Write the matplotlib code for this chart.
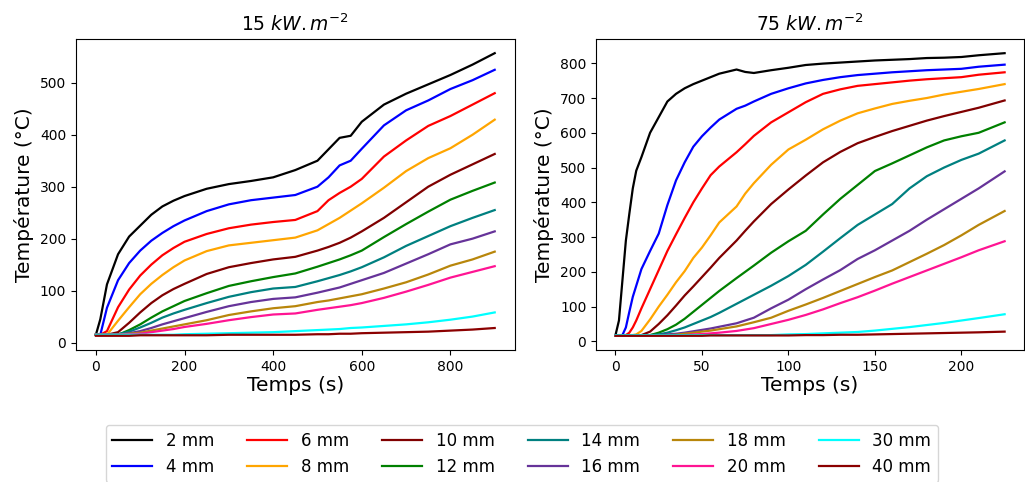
import matplotlib
matplotlib.use("Agg")
import matplotlib.pyplot as plt

# épaisseurs et couleurs
labels = ['2 mm', '4 mm', '6 mm', '8 mm', '10 mm', '12 mm', '14 mm', '16 mm',
          '18 mm', '20 mm', '30 mm', '40 mm']
couleurs = ['black', 'blue', 'red', 'orange', 'maroon', 'green', 'teal',
            'rebeccapurple', 'darkgoldenrod', 'deeppink', 'cyan', 'darkred']

# ---------------- 15 kW/m2 ----------------
t15 = [0, 10, 25, 50, 75, 100, 125, 150, 175, 200, 250, 300, 350, 400, 450, 500,
       525, 550, 575, 600, 650, 700, 750, 800, 850, 900]
T15_2 = [15, 45, 112, 170, 204, 225, 246, 262, 273, 282, 296, 305, 311, 318, 332,
         350, 372, 394, 398, 425, 458, 479, 497, 515, 535, 557]
T15_4 = [15, 15, 67, 120, 153, 177, 196, 211, 224, 235, 253, 266, 274, 279, 284,
         300, 318, 341, 350, 373, 418, 447, 466, 488, 505, 525]
T15_6 = [15, 15, 22, 68, 102, 129, 150, 168, 182, 194, 209, 220, 227, 232, 236,
         253, 274, 288, 300, 315, 358, 389, 417, 436, 458, 480]
T15_8 = [15, 15, 15, 42, 68, 93, 113, 130, 145, 158, 176, 187, 192, 197, 202,
         216, 228, 240, 254, 268, 298, 330, 355, 374, 400, 429]
T15_10 = [15, 15, 15, 20, 38, 58, 76, 91, 103, 113, 132, 145, 153, 160, 165,
          177, 184, 192, 202, 214, 240, 270, 300, 323, 343, 363]
T15_12 = [15, 15, 15, 15, 24, 35, 48, 60, 70, 80, 95, 109, 118, 126, 133,
          146, 153, 160, 168, 177, 203, 228, 252, 275, 292, 308]
T15_14 = [15, 15, 15, 16, 21, 29, 38, 48, 56, 63, 76, 88, 97, 104, 107,
          118, 124, 130, 137, 145, 164, 186, 205, 224, 240, 255]
T15_16 = [15, 15, 15, 15, 18, 22, 28, 35, 41, 47, 59, 70, 78, 84, 87,
          96, 101, 106, 113, 120, 134, 152, 170, 189, 200, 214]
T15_18 = [15, 15, 15, 15, 17, 19, 23, 27, 31, 35, 43, 53, 60, 66, 70,
          78, 81, 85, 89, 93, 104, 116, 131, 148, 160, 175]
T15_20 = [15, 15, 15, 15, 16, 17, 20, 23, 26, 30, 36, 43, 49, 54, 56,
          63, 66, 69, 72, 76, 86, 98, 111, 125, 136, 147]
T15_30 = [15, 15, 15, 15, 15, 15, 15, 15, 15, 16, 17, 18, 19, 20, 22,
          24, 25, 26, 28, 29, 32, 35, 39, 44, 50, 58]
T15_40 = [13, 13, 13, 13, 13, 14, 14, 14, 14, 14, 14, 15, 15, 15, 15,
          16, 16, 17, 17, 18, 19, 20, 21, 23, 25, 28]

# ---------------- 75 kW/m2 ----------------
t75 = [0, 2, 4, 6, 8, 10, 12, 15, 20, 25, 30, 35, 40, 45, 50, 55, 60, 70, 75,
       80, 90, 100, 110, 120, 130, 140, 150, 160, 170, 180, 190, 200, 210, 225]
T75_2 = [18, 60, 175, 290, 367, 440, 491, 530, 600, 645, 690, 712, 728, 740, 750,
         760, 770, 782, 775, 772, 780, 787, 795, 799, 802, 805, 808, 810, 812,
         815, 816, 818, 823, 829]
T75_4 = [18, 18, 18, 40, 85, 128, 160, 208, 260, 310, 392, 463, 515, 560, 590,
         615, 638, 669, 678, 690, 712, 728, 742, 752, 760, 766, 770, 774, 777,
         780, 782, 784, 790, 796]
T75_6 = [18, 18, 18, 18, 25, 40, 60, 95, 150, 205, 260, 308, 355, 400, 440,
         478, 503, 544, 567, 591, 630, 659, 688, 712, 725, 735, 740, 745, 750,
         754, 757, 760, 767, 774]
T75_8 = [18, 18, 18, 18, 18, 18, 20, 30, 63, 100, 134, 170, 202, 240, 270,
         305, 342, 388, 425, 455, 508, 552, 580, 610, 635, 656, 670, 683, 692,
         700, 710, 718, 726, 740]
T75_10 = [18, 18, 18, 18, 18, 18, 18, 18, 28, 50, 75, 103, 132, 158, 185,
          212, 240, 290, 318, 345, 395, 437, 477, 515, 545, 570, 588, 605, 620,
          635, 648, 660, 672, 693]
T75_12 = [18, 18, 18, 18, 18, 18, 18, 18, 18, 25, 35, 48, 65, 85, 105,
          125, 145, 182, 200, 218, 255, 288, 318, 365, 410, 450, 490, 512, 535,
          558, 578, 590, 600, 630]
T75_14 = [18, 18, 18, 18, 18, 18, 18, 18, 18, 20, 25, 32, 40, 50, 60,
          70, 82, 108, 121, 134, 160, 188, 220, 258, 297, 335, 365, 395, 440,
          475, 500, 522, 540, 578]
T75_16 = [18, 18, 18, 18, 18, 18, 18, 18, 18, 18, 20, 22, 25, 29, 33,
          37, 42, 52, 60, 68, 95, 120, 150, 178, 205, 237, 262, 290, 318,
          350, 380, 410, 440, 489]
T75_18 = [18, 18, 18, 18, 18, 18, 18, 18, 18, 18, 18, 19, 22, 25, 28,
          31, 35, 43, 49, 55, 68, 88, 106, 125, 145, 165, 185, 204, 228,
          252, 277, 305, 335, 375]
T75_20 = [18, 18, 18, 18, 18, 18, 18, 18, 18, 18, 18, 18, 18, 20, 21,
          23, 25, 30, 34, 38, 50, 62, 76, 92, 110, 127, 146, 166, 185,
          204, 223, 242, 262, 288]
T75_30 = [18, 18, 18, 18, 18, 18, 18, 18, 18, 18, 18, 18, 18, 18, 18,
          18, 18, 18, 18, 18, 18, 20, 21, 23, 25, 27, 31, 36, 41,
          47, 53, 60, 67, 78]
T75_40 = [16, 16, 16, 16, 16, 16, 16, 16, 16, 16, 16, 16, 16, 16, 16,
          17, 17, 17, 17, 17, 17, 17, 18, 18, 19, 19, 20, 21, 22,
          23, 24, 25, 26, 28]

series15 = [T15_2, T15_4, T15_6, T15_8, T15_10, T15_12, T15_14, T15_16,
            T15_18, T15_20, T15_30, T15_40]
series75 = [T75_2, T75_4, T75_6, T75_8, T75_10, T75_12, T75_14, T75_16,
            T75_18, T75_20, T75_30, T75_40]

fig = plt.figure(figsize=(10.25, 4.82), dpi=100)
ax1 = fig.add_axes([0.0741, 0.274, 0.428, 0.645])
ax2 = fig.add_axes([0.5815, 0.274, 0.4176, 0.645])

for i in range(len(labels)):
    ax1.plot(t15, series15[i], color=couleurs[i], lw=1.6, label=labels[i])
    ax2.plot(t75, series75[i], color=couleurs[i], lw=1.6)

ax1.set_title(r'15 $kW.m^{-2}$', fontsize=13.5)
ax2.set_title(r'75 $kW.m^{-2}$', fontsize=13.5)
for ax in (ax1, ax2):
    ax.set_xlabel('Temps (s)', fontsize=14.5, labelpad=2)
    ax.set_ylabel('Température (°C)', fontsize=14.5)
    ax.tick_params(labelsize=10)

ax1.set_xticks([0, 200, 400, 600, 800])
ax2.set_xticks([0, 50, 100, 150, 200])

handles, labs = ax1.get_legend_handles_labels()
fig.legend(handles, labs, loc='upper center', bbox_to_anchor=(0.509, 0.118),
           ncol=6, fontsize=12, handlelength=2.4, columnspacing=2.0,
           borderaxespad=0)

fig.savefig('out.png', dpi=100)
